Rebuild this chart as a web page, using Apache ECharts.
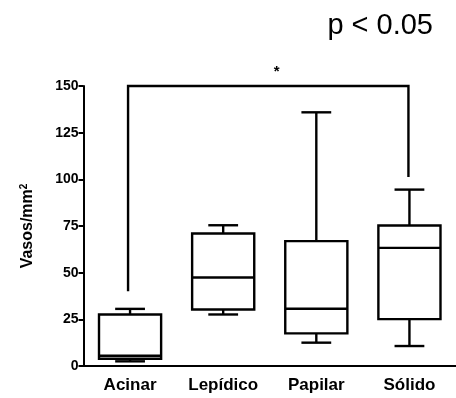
<!DOCTYPE html>
<html>
<head>
<meta charset="utf-8">
<script src="https://cdn.jsdelivr.net/npm/echarts@6/dist/echarts.min.js"></script>
<style>html,body{margin:0;padding:0;background:#fff;}#c{width:456px;height:398px;}</style>
</head>
<body>
<div id="c"></div>
<script>
const categories = ['Acinar', 'Lepídico', 'Papilar', 'Sólido'];
// [min, Q1, median, Q3, max]
const boxMin    = [2.5, 27.6, 12.5, 10.7];
const boxQ1     = [3.9, 30.3, 17.5, 25.1];
const boxMedian = [5.5, 47.4, 30.7, 63.3];
const boxQ3     = [27.6, 71.0, 66.9, 75.3];
const boxMax    = [30.6, 75.4, 135.9, 94.5];
const yTicks = [0, 25, 50, 75, 100, 125, 150];
// significance bracket: from category, to category, top value, left leg end, right leg end
const bracketFrom = 0, bracketTo = 3;
const bracketTop = 150, bracketLeftEnd = 40.1, bracketRightEnd = 101.3;
const sigLabel = '*';
const pText = 'p < 0.05';

const FONT = '"Liberation Sans", Arial, sans-serif';
const chart = echarts.init(document.getElementById('c'), null, {renderer: 'canvas'});

const boxData = categories.map((c, i) => [i, boxMin[i], boxQ1[i], boxMedian[i], boxQ3[i], boxMax[i]]);
const LW = 2.4;

chart.setOption({
  animation: false,
  backgroundColor: '#fff',
  title: {
    text: pText, right: 18, top: 6,
    textStyle: {fontFamily: FONT, fontSize: 29, fontWeight: 'normal', color: '#000'}
  },
  grid: {left: 83.5, right: 0, top: 86, bottom: 32, containLabel: false},
  xAxis: {
    type: 'category', data: categories, boundaryGap: true,
    axisLine: {lineStyle: {color: '#000', width: 2}},
    axisTick: {alignWithLabel: true, length: 5, lineStyle: {color: '#000', width: 2}},
    axisLabel: {fontFamily: FONT, fontSize: 17, fontWeight: 'bold', color: '#000', margin: 11},
    splitLine: {show: false}
  },
  yAxis: {
    type: 'value', min: 0, max: 150, interval: 25,
    name: '{a|Vasos/mm}{s|2}', nameLocation: 'middle', nameGap: 48, nameRotate: 90,
    nameTextStyle: {
      rich: {
        a: {fontFamily: FONT, fontSize: 16, fontWeight: 'bold', color: '#000'},
        s: {fontFamily: FONT, fontSize: 10, fontWeight: 'bold', color: '#000', verticalAlign: 'top', padding: [0,0,6,0]}
      }
    },
    axisLine: {show: true, lineStyle: {color: '#000', width: 2}},
    axisTick: {show: true, length: 5, lineStyle: {color: '#000', width: 2}},
    axisLabel: {fontFamily: FONT, fontSize: 14, fontWeight: 'bold', color: '#000', margin: 5,
      formatter: v => yTicks.indexOf(v) >= 0 ? String(v) : ''},
    splitLine: {show: false}
  },
  series: [
    {
      type: 'custom', clip: false,
      data: boxData,
      encode: {x: 0, y: [1, 2, 3, 4, 5]},
      renderItem: function (params, api) {
        const i = api.value(0);
        const band = api.size([1, 0])[0];
        const bw = band * 0.667, cw = band * 0.32;
        const pMin = api.coord([i, api.value(1)]);
        const pQ1 = api.coord([i, api.value(2)]);
        const pMed = api.coord([i, api.value(3)]);
        const pQ3 = api.coord([i, api.value(4)]);
        const pMax = api.coord([i, api.value(5)]);
        const x = pMin[0];
        const st = {stroke: '#000', lineWidth: LW, fill: null};
        return {
          type: 'group',
          children: [
            {type: 'line', shape: {x1: x, y1: pMax[1], x2: x, y2: pQ3[1]}, style: st},
            {type: 'line', shape: {x1: x, y1: pQ1[1], x2: x, y2: pMin[1]}, style: st},
            {type: 'line', shape: {x1: x - cw/2, y1: pMax[1], x2: x + cw/2, y2: pMax[1]}, style: st},
            {type: 'line', shape: {x1: x - cw/2, y1: pMin[1], x2: x + cw/2, y2: pMin[1]}, style: st},
            {type: 'rect', shape: {x: x - bw/2, y: pQ3[1], width: bw, height: pQ1[1] - pQ3[1]}, style: {stroke: '#000', lineWidth: LW, fill: '#fff'}},
            {type: 'line', shape: {x1: x - bw/2, y1: pMed[1], x2: x + bw/2, y2: pMed[1]}, style: st}
          ]
        };
      }
    },
    {
      type: 'custom', clip: false,
      data: [[bracketFrom, bracketTo, bracketTop, bracketLeftEnd, bracketRightEnd]],
      encode: {x: [0, 1], y: [2, 3, 4]},
      renderItem: function (params, api) {
        const pL = api.coord([api.value(0), api.value(2)]);
        const pR = api.coord([api.value(1), api.value(2)]);
        const pLe = api.coord([api.value(0), api.value(3)]);
        const pRe = api.coord([api.value(1), api.value(4)]);
        const st = {stroke: '#000', lineWidth: LW, fill: null};
        return {
          type: 'group',
          children: [
            {type: 'polyline', shape: {points: [[pLe[0] - 2, pLe[1]], [pL[0] - 2, pL[1]], [pR[0] - 1, pR[1]], [pRe[0] - 1, pRe[1]]]}, style: st},
            {type: 'text', x: (pL[0] + pR[0]) / 2 + 7, y: pL[1] - 14,
              style: {text: sigLabel, fontFamily: FONT, fontSize: 15, fontWeight: 'bold', fill: '#000', align: 'center', verticalAlign: 'middle'}}
          ]
        };
      }
    }
  ]
});
</script>
</body>
</html>
